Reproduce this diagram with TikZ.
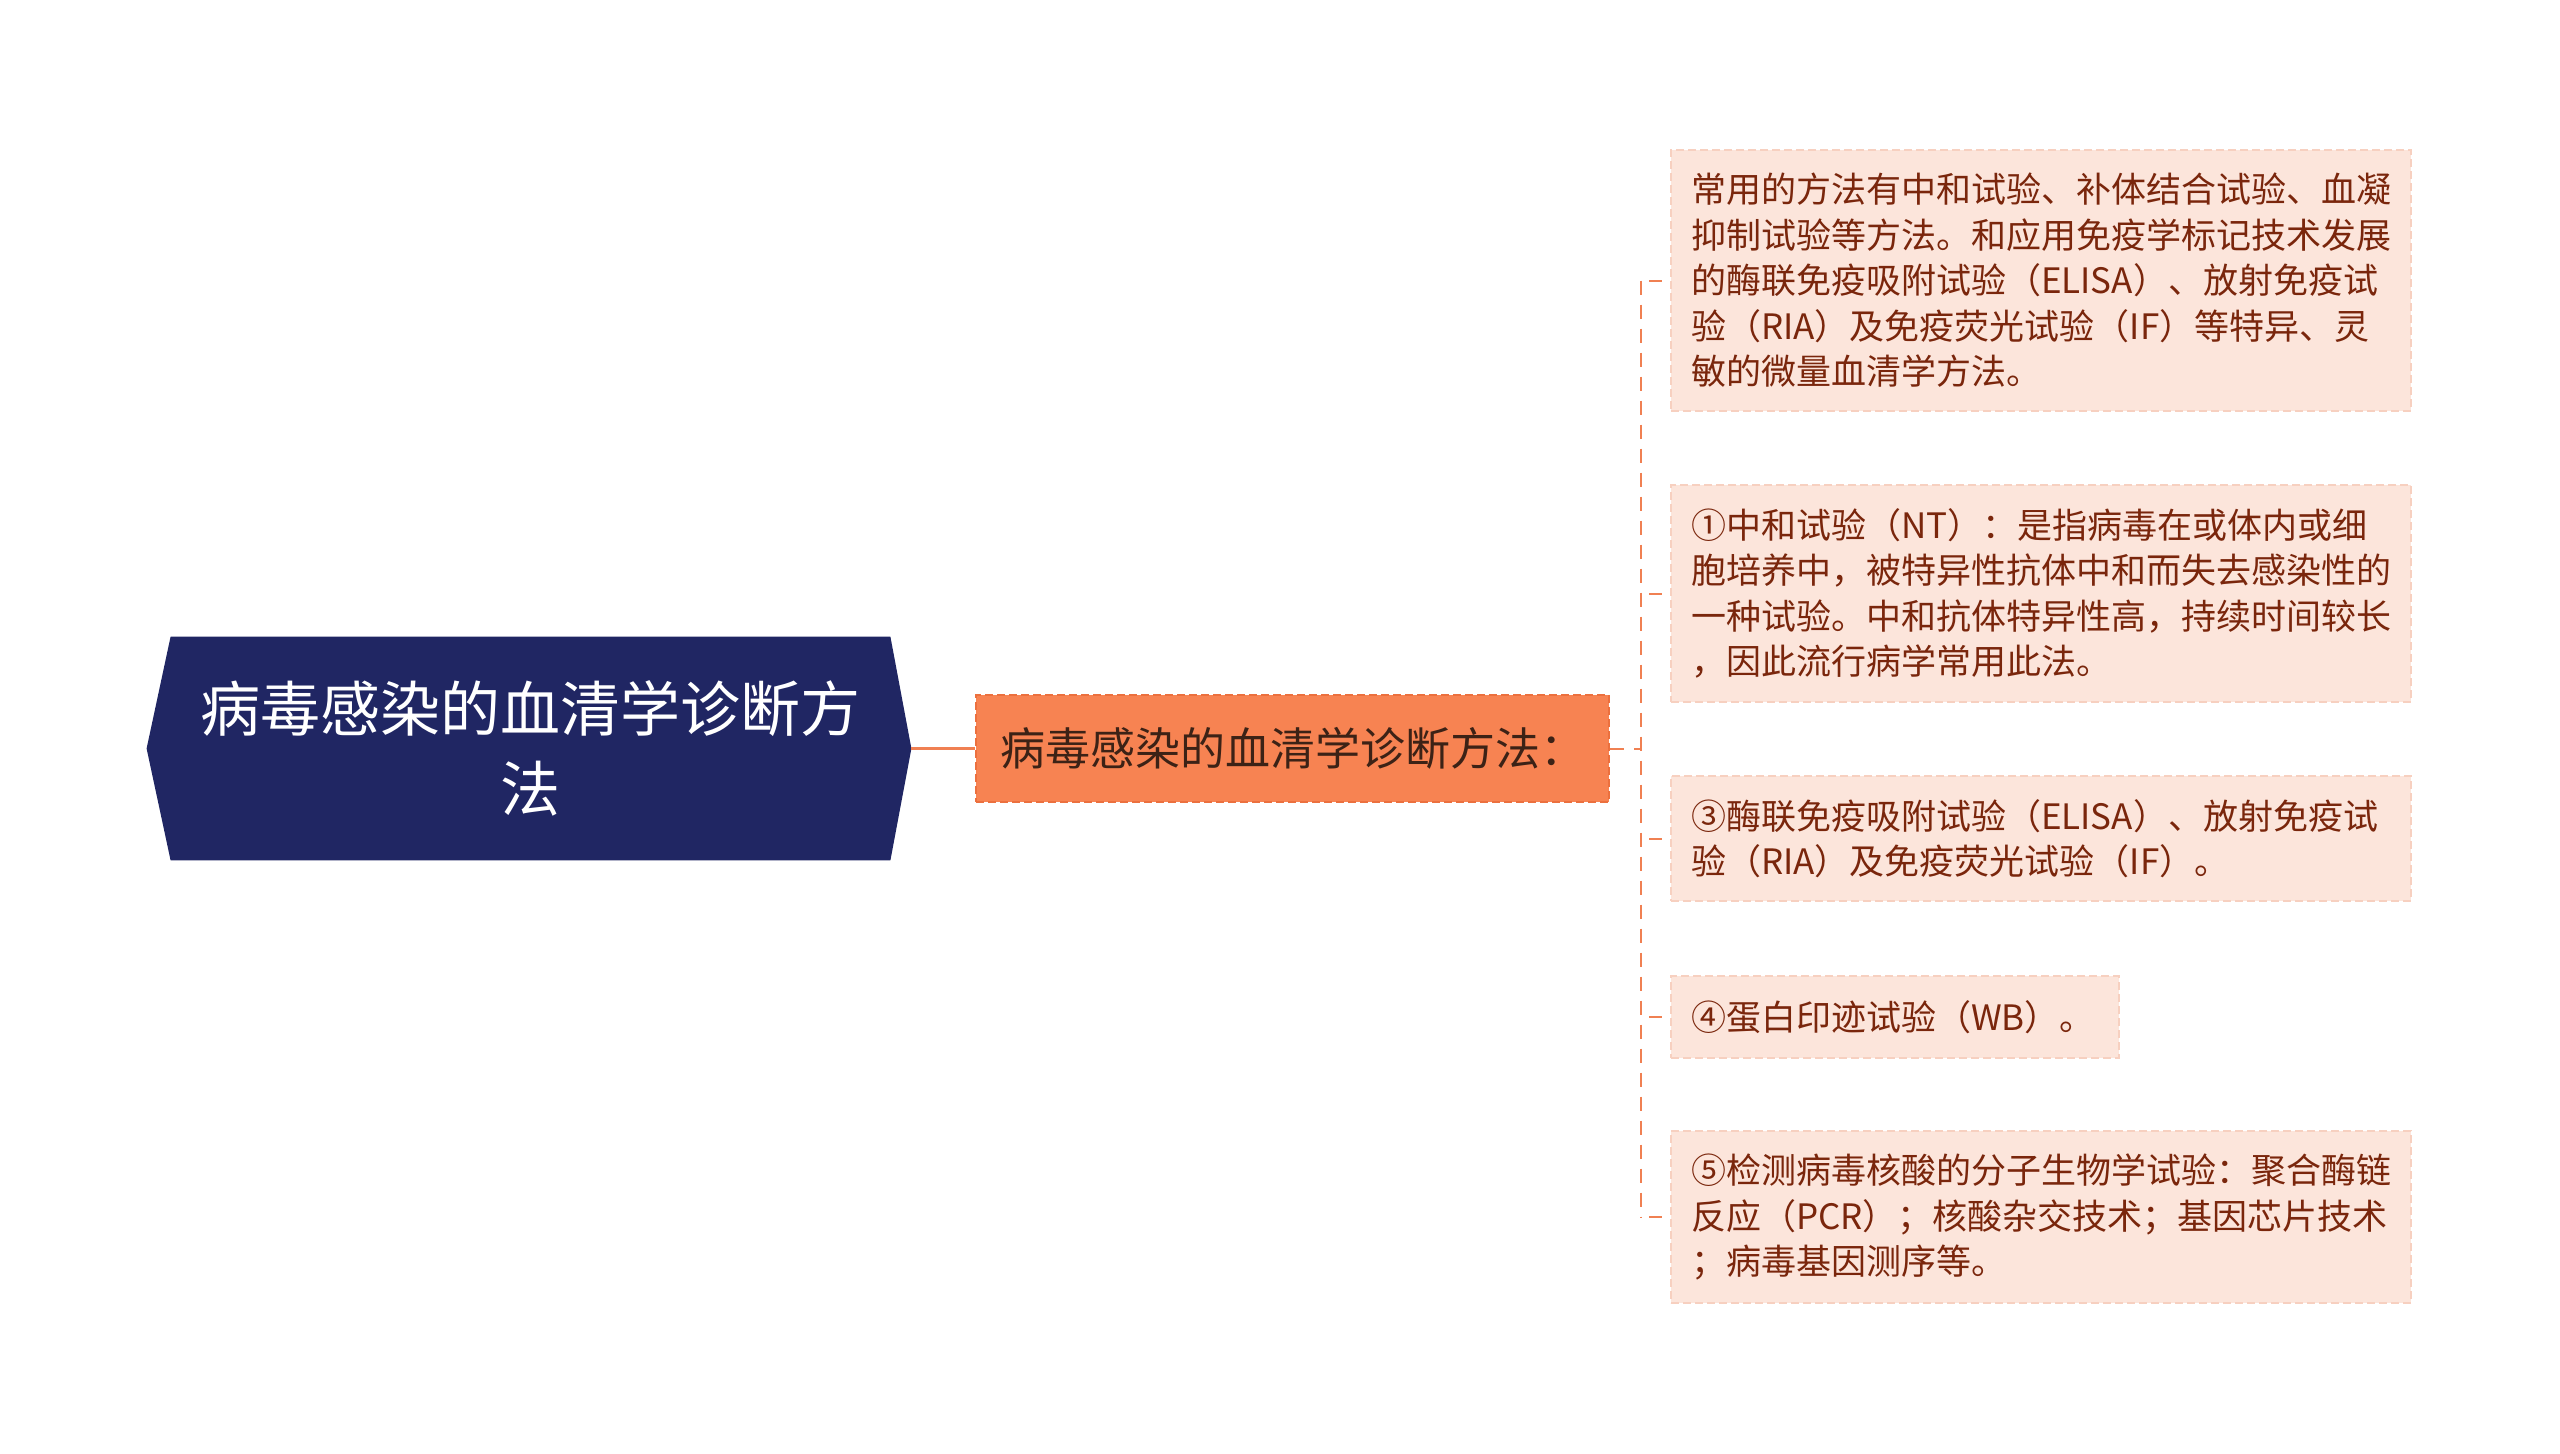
\documentclass[tikz,border=0pt]{standalone}
\usepackage{fontspec}
\newfontfamily\cjk{Noto Sans CJK SC}
\usetikzlibrary{backgrounds,calc}
\definecolor{navy}{RGB}{32,38,99}
\definecolor{orfill}{RGB}{247,131,82}
\definecolor{ordraw}{RGB}{236,112,62}
\definecolor{midtext}{RGB}{60,34,22}
\definecolor{chfill}{RGB}{252,229,219}
\definecolor{chdraw}{RGB}{247,208,192}
\definecolor{chtext}{RGB}{122,38,12}
\definecolor{conn}{RGB}{240,128,82}
\tikzset{
  rootbox/.style={minimum width=359.5pt,minimum height=111.5pt,inner sep=0pt,
    align=center,text=white,font=\cjk\fontsize{30}{40}\selectfont},
  midbox/.style={fill=orfill,draw=ordraw,dashed,dash pattern=on 4pt off 2pt,line width=1pt,
    anchor=west,minimum height=53.5pt,inner xsep=12pt,inner ysep=0pt,
    text width=292.5pt,align=left,text=midtext,font=\cjk\fontsize{22.5}{28}\selectfont},
  chbox/.style={fill=chfill,draw=chdraw,dashed,dash pattern=on 4pt off 2pt,line width=1pt,
    anchor=west,inner xsep=10pt,inner ysep=0pt,align=left,text=chtext,
    font=\cjk\fontsize{17.5}{22.75}\selectfont},
  link/.style={draw=conn,line width=1.5pt},
  dlink/.style={draw=conn,line width=1pt,dash pattern=on 7pt off 5pt}
}
\begin{document}
\begin{tikzpicture}[x=0.5pt,y=-0.5pt]
\useasboundingbox (0,0) rectangle (2560,1453);
\node[rootbox] (root) at (530.5,748.5) {病毒感染的血清学诊断方\\法};
\begin{scope}[on background layer]
\fill[navy] (root.north west) -- (root.north east) -- ([xshift=10.5pt]root.east)
  -- (root.south east) -- (root.south west) -- ([xshift=-12pt]root.west) -- cycle;
\end{scope}
\coordinate (rootR) at ([xshift=10.5pt]root.east);
\node[midbox] (mid) at (975,748.5) {病毒感染的血清学诊断方法：};

\node[chbox,text width=350pt,minimum height=130.5pt] (c1) at (1670,280.5)
{常用的方法有中和试验、补体结合试验、血凝\\抑制试验等方法。和应用免疫学标记技术发展\\的酶联免疫吸附试验（ELISA）、放射免疫试\\验（RIA）及免疫荧光试验（IF）等特异、灵\\敏的微量血清学方法。};
\node[chbox,text width=350pt,minimum height=108.5pt] (c2) at (1670,593.5)
{①中和试验（NT）：是指病毒在或体内或细\\胞培养中，被特异性抗体中和而失去感染性的\\一种试验。中和抗体特异性高，持续时间较长\\，因此流行病学常用此法。};
\node[chbox,text width=350pt,minimum height=62.5pt] (c3) at (1670,838.5)
{③酶联免疫吸附试验（ELISA）、放射免疫试\\验（RIA）及免疫荧光试验（IF）。};
\node[chbox,text width=204pt,minimum height=41pt] (c4) at (1670,1017)
{④蛋白印迹试验（WB）。};
\node[chbox,text width=350pt,minimum height=86pt] (c5) at (1670,1217)
{⑤检测病毒核酸的分子生物学试验：聚合酶链\\反应（PCR）；核酸杂交技术；基因芯片技术\\；病毒基因测序等。};

\coordinate (spine) at (1641,748.5);
\draw[link] (rootR) -- (mid.west);
\draw[dlink] (mid.east) -- (spine);
\draw[dlink] (spine |- c1.west) -- (spine |- c5.west);
\foreach \c in {c1,c2,c3,c4,c5}{
  \draw[link,line width=1pt] ([xshift=4pt]spine |- \c.west) -- ([xshift=-4pt]\c.west);
}
\end{tikzpicture}
\end{document}
